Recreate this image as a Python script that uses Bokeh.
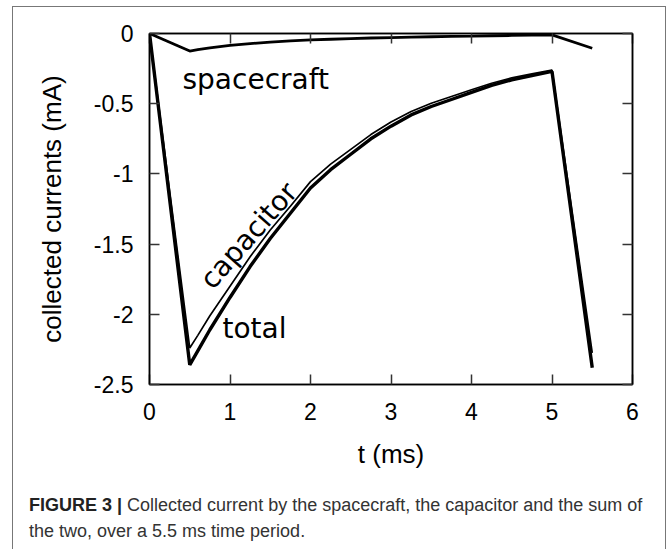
from bokeh.plotting import figure
from bokeh.models import Label, LinearAxis, FixedTicker, Range1d, Div, CustomLabelingPolicy
from bokeh.layouts import column
from bokeh.embed import file_html
from bokeh.resources import INLINE

# ---- data ----
t_ms = [0.0, 0.5, 0.6, 0.75, 1.0, 1.25, 1.5, 1.75, 2.0, 2.25, 2.5, 2.75, 3.0,
        3.25, 3.5, 3.75, 4.0, 4.25, 4.5, 4.75, 5.0, 5.5]
total = [0.0, -2.36, -2.26, -2.11, -1.88, -1.66, -1.46, -1.28, -1.10, -0.97,
         -0.86, -0.75, -0.66, -0.58, -0.52, -0.47, -0.42, -0.37, -0.33, -0.30,
         -0.27, -2.38]
spacecraft = [0.0, -0.125, -0.115, -0.102, -0.085, -0.072, -0.062, -0.053,
              -0.046, -0.041, -0.036, -0.032, -0.029, -0.026, -0.023, -0.021,
              -0.019, -0.016, -0.014, -0.012, -0.010, -0.105]
capacitor = [0.0, -2.24, -2.15, -2.01, -1.80, -1.59, -1.40, -1.23, -1.055,
             -0.93, -0.825, -0.72, -0.63, -0.555, -0.497, -0.449, -0.401,
             -0.354, -0.316, -0.288, -0.26, -2.275]

x_ticks = [0, 1, 2, 3, 4, 5, 6]
x_tick_labels = ["0", "1", "2", "3", "4", "5", "6"]
y_ticks = [0, -0.5, -1, -1.5, -2, -2.5]
y_tick_labels = ["0", "-0.5", "-1", "-1.5", "-2", "-2.5"]

x_label = "t (ms)"
y_label = "collected currents (mA)"
curve_names = ["spacecraft", "capacitor", "total"]
caption_bold = "FIGURE 3 |"
caption_1 = "Collected current by the spacecraft, the capacitor and the sum of"
caption_2 = "the two, over a 5.5 ms time period."

# ---- layout ----
PAGE_X0, PAGE_Y0 = 13, 7          # where the figure sits on the page (inside the box)
W, H = 652, 480
BL, BR, BT, BB = 136, 33, 26, 103
FW, FH = W - BL - BR, H - BT - BB
XMIN, XMAX, YMIN, YMAX = 0, 6, -2.5, 0

def xd(px):
    return XMIN + (px - PAGE_X0 - BL) * (XMAX - XMIN) / FW

def yd(py):
    return YMAX - (py - PAGE_Y0 - BT) * (YMAX - YMIN) / FH

p = figure(width=W, height=H, x_range=Range1d(XMIN, XMAX), y_range=Range1d(YMIN, YMAX),
           output_backend="svg", toolbar_location=None,
           min_border_left=BL, min_border_right=BR, min_border_top=BT, min_border_bottom=BB)
p.grid.visible = False
p.background_fill_color = "white"
p.border_fill_color = "white"
p.outline_line_color = "black"
p.outline_line_width = 1.5

TICK_FONT = "23px"
LABEL_FONT = "26px"

for ax, ticks, labels in ((p.xaxis[0], x_ticks, x_tick_labels), (p.yaxis[0], y_ticks, y_tick_labels)):
    ax.ticker = FixedTicker(ticks=ticks)
    ax.major_label_overrides = {k: v for k, v in zip(ticks, labels)}
    ax.major_tick_in = 10
    ax.major_tick_out = 0
    ax.minor_tick_line_color = None
    ax.axis_line_color = "black"
    ax.axis_line_width = 1.5
    ax.major_tick_line_color = "#333333"
    ax.major_tick_line_width = 1.5
    ax.major_label_text_font = "Liberation Sans"
    ax.major_label_text_font_size = TICK_FONT
    ax.major_label_text_color = "black"
    ax.axis_label_text_font = "Liberation Sans"
    ax.axis_label_text_font_size = LABEL_FONT
    ax.axis_label_text_font_style = "normal"
    ax.axis_label_text_color = "black"

p.xaxis[0].axis_label = x_label
p.yaxis[0].axis_label = y_label
p.xaxis[0].major_label_standoff = 18
p.xaxis[0].axis_label_standoff = 16
p.yaxis[0].major_label_standoff = 16
p.yaxis[0].axis_label_standoff = 24

# mirrored axes (ticks only, no labels drawn)
def mirror_axis(ticks):
    return LinearAxis(ticker=FixedTicker(ticks=ticks),
                      major_label_policy=CustomLabelingPolicy(code="return []"),
                      major_tick_in=10, major_tick_out=0, minor_tick_line_color=None,
                      axis_line_color="black", axis_line_width=1.5,
                      major_tick_line_color="#333333", major_tick_line_width=1.5)

p.add_layout(mirror_axis(x_ticks), "above")
p.add_layout(mirror_axis(y_ticks), "right")

# curves
p.line(t_ms, total, line_color="black", line_width=3.4)
p.line(t_ms, capacitor, line_color="black", line_width=1.7)
p.line(t_ms, spacecraft, line_color="black", line_width=2.8)

# curve names
CURVE_FONT = "28px"
p.add_layout(Label(x=xd(182), y=yd(79), text=curve_names[0], text_font="DejaVu Sans",
                   text_font_size=CURVE_FONT, text_color="black",
                   text_baseline="alphabetic", text_align="left"))
p.add_layout(Label(x=xd(205), y=yd(284), text=curve_names[1], text_font="DejaVu Sans",
                   text_font_size=CURVE_FONT, text_color="black",
                   text_baseline="alphabetic", text_align="left",
                   angle=48.6, angle_units="deg"))
p.add_layout(Label(x=xd(222), y=yd(328), text=curve_names[2], text_font="DejaVu Sans",
                   text_font_size=CURVE_FONT, text_color="black",
                   text_baseline="alphabetic", text_align="left"))

# caption below the chart, inside the same framed panel
cap_html = (
    '<div style="padding:5px 0 0 16px; font-family:\'Liberation Sans\', Arial, sans-serif; '
    'font-size:18px; line-height:26px; color:#333333; white-space:nowrap;">'
    f'<b style="color:#222222">{caption_bold}</b> {caption_1}<br>{caption_2}</div>'
)
cap = Div(text=cap_html, width=W, height=62, margin=0)

layout = column(p, cap, margin=(6, 0, 0, 12), spacing=0,
                styles={"border-left": "1px solid #777777", "border-right": "1px solid #777777",
                        "border-top": "1px solid #777777"})

open("out.html", "w").write(file_html(layout, INLINE))
